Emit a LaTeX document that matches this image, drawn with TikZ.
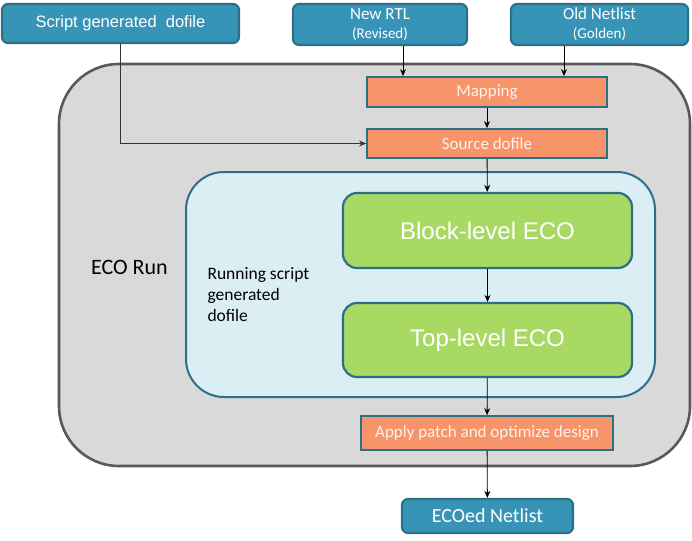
\documentclass[tikz,border=0pt]{standalone}
\usepackage{fontspec}
\setmainfont{Carlito}
\newfontfamily\arialfont{Liberation Sans}
\usepackage{xcolor}
\usetikzlibrary{arrows.meta}
\definecolor{tealfill}{HTML}{3794B6}
\definecolor{tealline}{HTML}{2C6F87}
\definecolor{orangefill}{HTML}{F7946A}
\definecolor{orangetext}{HTML}{FFF3EC}
\definecolor{greyfill}{HTML}{D9D9D9}
\definecolor{greyline}{HTML}{595959}
\definecolor{bluefill}{HTML}{DAEEF3}
\definecolor{greenfill}{HTML}{A8DA63}
\tikzstyle{arrow} = [->,>={Stealth[length=7pt,width=6pt]},black,line width=0.8pt]
\tikzstyle{inbox} = [draw=tealline,fill=tealfill,line width=2.2pt,rounded corners=6pt,text=white,inner sep=0pt,align=center]
\tikzstyle{stepbox} = [draw=tealline,fill=orangefill,line width=1.8pt,text=orangetext,inner sep=0pt,font=\fontsize{17}{20}\selectfont]
\tikzstyle{ecobox} = [draw=tealline,fill=greenfill,line width=2.2pt,rounded corners=14pt,text=white,inner sep=0pt,minimum width=289pt,font=\arialfont\fontsize{24}{28}\selectfont]

\begin{document}
\begin{tikzpicture}[x=1pt,y=-1pt]
	\useasboundingbox (0,0) rectangle (692,540);
	
	% containers
	\node [draw=greyline,fill=greyfill,line width=2.6pt,rounded corners=60pt,minimum width=631pt,minimum height=402pt,inner sep=0pt] (run) at (374.5,265) {};
	\node [draw=tealline,fill=bluefill,line width=2pt,rounded corners=38pt,minimum width=469pt,minimum height=225pt,inner sep=0pt] (script) at (420.5,284.5) {};
	\node [font=\fontsize{22}{26}\selectfont] (runlabel) at (129.5,267) {ECO Run};
	\node [anchor=west,align=left,font=\fontsize{17.5}{21}\selectfont] (scriptlabel) at (204,295) {Running script\\generated\\dofile};
	
	% inputs
	\node [inbox,minimum width=237pt,minimum height=39pt,font=\arialfont\fontsize{16.5}{20}\selectfont] (sgd) at (120.5,23.5) {Script generated\ \ dofile};
	\node [inbox,minimum width=174pt,minimum height=41pt,font=\fontsize{17}{19}\selectfont] (rtl) at (380,24.5) {New RTL\\{\fontsize{15}{17}\selectfont(Revised)}};
	\node [inbox,minimum width=177pt,minimum height=41pt,font=\fontsize{17}{19}\selectfont] (gold) at (599.5,24.5) {Old Netlist\\{\fontsize{15}{17}\selectfont(Golden)}};
	
	% flow
	\node [stepbox,minimum width=240pt,minimum height=30pt] (map) at (487,92) {Mapping};
	\node [stepbox,minimum width=240pt,minimum height=29pt] (src) at (487,143.5) {Source dofile};
	\node [ecobox,minimum height=75pt] (blk) at (487.5,230.5) {Block-level ECO};
	\node [ecobox,minimum height=74pt] (top) at (487.5,340) {Top-level ECO};
	\node [stepbox,minimum width=252pt,minimum height=34pt] (apply) at (487,433) {Apply patch and optimize design};
	\node [inbox,minimum width=171pt,minimum height=34pt,font=\fontsize{20}{24}\selectfont] (out) at (487.5,516) {ECOed Netlist};
	
	% connectors
	\draw [arrow,draw=black!80,line width=1.2pt] (sgd.south) |- (src.west);
	\draw [arrow] ([xshift=23pt]rtl.south) -- ([xshift=23pt]rtl.south |- map.north);
	\draw [arrow] ([xshift=-35.5pt]gold.south) -- ([xshift=-35.5pt]gold.south |- map.north);
	\draw [arrow] (map) -- (src);
	\draw [arrow] (src) -- (blk);
	\draw [arrow] (blk) -- (top);
	\draw [arrow] (top) -- (apply);
	\draw [arrow] (apply) -- (out);
	
\end{tikzpicture}
\end{document}
